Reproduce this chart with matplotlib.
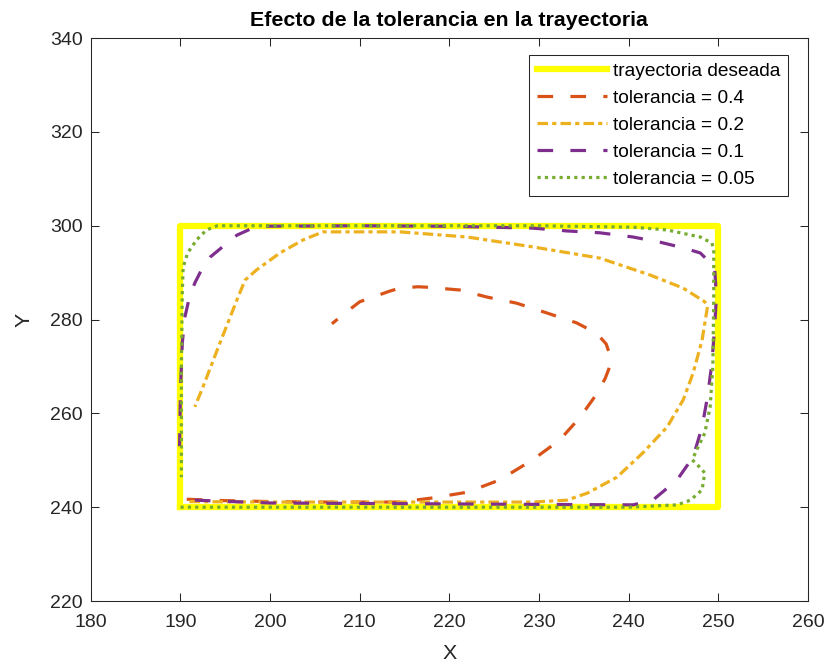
import matplotlib
matplotlib.use('Agg')
import matplotlib.pyplot as plt

plt.rcParams['font.family'] = ['Liberation Sans', 'DejaVu Sans']

# desired rectangle
x_des = [190, 250, 250, 190, 190]
y_des = [240, 240, 300, 300, 240]

# tolerance 0.4
x_04 = [190.7, 195, 200, 205, 210, 214.5, 218.2, 222.0, 225.6, 229.3, 232.3, 234.6,
        236.5, 237.4, 237.9, 237.9, 237.5, 236.8, 235.6, 234.2, 230.9, 227.5, 224.2,
        221.2, 217.5, 216.5, 214.5, 213.4, 210.0, 208.1, 206.9]
y_04 = [241.7, 241.4, 241.2, 241.1, 241.1, 241.1, 242.0, 243.2, 245.8, 250.1, 254.3, 259.2,
        264.3, 267.5, 270.0, 272.5, 274.8, 276.3, 277.9, 279.3, 281.4, 283.5, 284.8,
        286.3, 286.9, 287.0, 286.7, 286.1, 283.8, 281.0, 279.1]

# tolerance 0.2
x_02 = [191.0, 200, 210, 220, 229.3, 233.1, 235.4, 238.7, 241.6, 244.3, 246.1, 247.2,
        248.2, 248.8, 248.5, 246.1, 242.4, 236.8, 229.3, 222.0, 214.5, 208.9, 205.9,
        203.7, 201.1, 198.5, 197.2, 196.3, 194.4, 192.5, 191.6]
y_02 = [241.2, 241.1, 241.1, 241.1, 241.1, 241.5, 243.0, 246.4, 251.6, 257.1, 262.9, 268.6,
        275.6, 282.7, 283.8, 286.7, 289.5, 293.1, 295.5, 297.6, 298.7, 298.7, 298.7,
        297.0, 294.2, 290.6, 288.4, 284.2, 275.0, 265.6, 261.4]

# tolerance 0.1
x_01 = [191.6, 200, 210, 220, 230, 240.5, 242.7, 245.4, 247.2, 248.2, 248.8, 249.3,
        249.6, 249.8, 249.6, 248.0, 246.1, 243.5, 240.5, 236.8, 233.1, 229.3, 220, 210,
        198.5, 196.3, 195.2, 193.3, 192.5, 191.6, 191.0, 190.5, 190.2, 190.0, 189.9]
y_01 = [241.5, 240.9, 240.8, 240.7, 240.6, 240.5, 241.5, 245.8, 250.7, 257.1, 263.5, 270.7,
        278.4, 284.8, 291.2, 294.2, 295.3, 296.5, 297.6, 298.5, 298.9, 299.5, 299.9, 300.0,
        299.9, 298.0, 296.3, 293.3, 291.2, 287.8, 284.8, 280.6, 275.0, 265.0, 253.0]

# tolerance 0.05
x_005 = [190.0, 200, 210, 220, 230, 240, 245.4, 246.9, 248.2, 248.5, 247.9, 247.1, 247.6,
         248.5, 249.1, 249.4, 249.5, 249.5, 249.3, 248.0, 244.3, 240.5, 230, 220, 210, 200,
         194.1, 192.9, 191.8, 190.8, 190.3, 190.2, 190.1, 190.1, 190.1]
y_005 = [240.0, 240.0, 240.0, 240.0, 240.0, 240.0, 240.5, 241.5, 243.7, 247.3, 248.6, 250.1,
         252.2, 255.8, 261.4, 269.9, 284.2, 294.8, 296.3, 297.6, 299.1, 299.7, 300, 300, 300,
         300, 300.0, 299.1, 297.0, 294.2, 291.2, 285.6, 270, 255, 246.4]

fig = plt.figure(figsize=(8.26, 6.69), dpi=100)
ax = fig.add_axes([0.110, 0.1016, 0.868, 0.8414])

lw = 2.3
ax.plot(x_des, y_des, color='#FFFF00', lw=4.5, solid_joinstyle='round',
        label='trayectoria deseada')
ax.plot(x_04, y_04, color='#D95319', lw=lw, dashes=(4.9, 5.4), label='tolerancia = 0.4')
ax.plot(x_02, y_02, color='#EDB120', lw=lw, dashes=(3.3, 1.3, 1.3, 1.3),
        label='tolerancia = 0.2')
ax.plot(x_01, y_01, color='#7E2F8E', lw=lw, dashes=(4.9, 5.4), label='tolerancia = 0.1')
ax.plot(x_005, y_005, color='#77AC30', lw=lw, dashes=(1.0, 1.3), label='tolerancia = 0.05')

ax.set_xlim(180, 260)
ax.set_ylim(220, 340)
ax.set_xticks(range(180, 261, 10))
ax.set_yticks(range(220, 341, 20))
ax.tick_params(direction='in', length=6, width=0.75, top=True, right=True,
               labelsize=14, colors='#262626')
ax.tick_params(axis='x', pad=9)
ax.tick_params(axis='y', pad=6)
for s in ax.spines.values():
    s.set_linewidth(0.75)
    s.set_color('#262626')

ax.set_title('Efecto de la tolerancia en la trayectoria', fontsize=15.4,
             fontweight='bold', pad=9)
ax.set_xlabel('X', fontsize=15.4, color='#262626', labelpad=10)
ax.set_ylabel('Y', fontsize=15.4, color='#262626', labelpad=12)

leg = ax.legend(loc='upper right', bbox_to_anchor=(0.972, 0.970), borderaxespad=0,
                fontsize=13.8, handlelength=3.68, handletextpad=0.28, labelspacing=0.5,
                borderpad=0.4, fancybox=False, framealpha=1)
leg.get_frame().set_edgecolor('#262626')
leg.get_frame().set_linewidth(0.75)

fig.savefig('out.png', dpi=100)
